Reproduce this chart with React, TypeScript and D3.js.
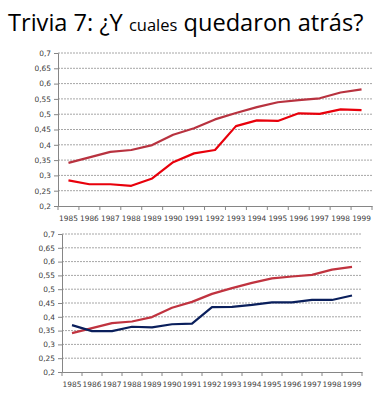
import React, { useEffect, useRef } from "react";
import * as d3 from "d3";

const years = [
  "1985", "1986", "1987", "1988", "1989", "1990", "1991", "1992",
  "1993", "1994", "1995", "1996", "1997", "1998", "1999",
];
const upperSeries = [
  0.341, 0.359, 0.377, 0.383, 0.399, 0.433, 0.454, 0.483,
  0.504, 0.523, 0.539, 0.546, 0.552, 0.571, 0.581,
];
const redSeries = [
  0.284, 0.271, 0.271, 0.266, 0.29, 0.343, 0.372, 0.383,
  0.461, 0.48, 0.478, 0.503, 0.501, 0.516, 0.513,
];
const navySeries = [
  0.37, 0.348, 0.348, 0.364, 0.362, 0.373, 0.375, 0.435,
  0.436, 0.443, 0.452, 0.452, 0.461, 0.461, 0.477,
];
const yTicks = [0.2, 0.25, 0.3, 0.35, 0.4, 0.45, 0.5, 0.55, 0.6, 0.65, 0.7];

const App = () => {
  const chartsRef = useRef<SVGGElement>(null);

  useEffect(() => {
    const root = d3.select(chartsRef.current);
    root.selectAll("*").remove();

    // draws one small excel-like line chart
    const drawChart = (
      left: number,
      right: number,
      top: number,
      bottom: number,
      series: { values: number[]; color: string }[]
    ) => {
      const x = d3.scaleBand().domain(years).range([left, right]);
      const y = d3.scaleLinear().domain([0.2, 0.7]).range([bottom, top]);
      const g = root.append("g");

      // grid
      g.selectAll(".grid")
        .data(yTicks.slice(1))
        .join("line")
        .attr("x1", left)
        .attr("x2", right)
        .attr("y1", (d) => y(d))
        .attr("y2", (d) => y(d))
        .attr("stroke", "#a6a6a6")
        .attr("stroke-width", 1)
        .attr("stroke-dasharray", "2,1");

      const yAxis = d3
        .axisLeft(y)
        .tickValues(yTicks)
        .tickSize(4)
        .tickPadding(3)
        .tickFormat((d) => d3.format(".2~f")(d as number).replace(".", ","));
      const ya = g.append("g").attr("transform", `translate(${left},0)`).call(yAxis);

      const xAxis = d3.axisBottom(x).tickSize(0).tickPadding(10);
      const xa = g.append("g").attr("transform", `translate(0,${bottom})`).call(xAxis);

      // category boundary ticks
      g.selectAll(".xt")
        .data(d3.range(years.length + 1))
        .join("line")
        .attr("x1", (i) => left + i * x.step())
        .attr("x2", (i) => left + i * x.step())
        .attr("y1", bottom)
        .attr("y2", bottom + 4)
        .attr("stroke", "#868686");

      [ya, xa].forEach((a) => {
        a.select(".domain").attr("stroke", "#868686");
        a.selectAll(".tick line").attr("stroke", "#868686");
        a.selectAll("text")
          .attr("fill", "#404040")
          .style("font-family", "'DejaVu Sans', sans-serif")
          .style("font-size", "7.4px");
      });

      const line = d3
        .line<number>()
        .x((d, i) => (x(years[i]) as number) + x.bandwidth() / 2)
        .y((d) => y(d));

      series.forEach((s) => {
        g.append("path")
          .attr("d", line(s.values))
          .attr("fill", "none")
          .attr("stroke", s.color)
          .attr("stroke-width", 2.2)
          .attr("stroke-linejoin", "round");
      });
    };

    drawChart(58, 372, 53, 206, [
      { values: upperSeries, color: "#b8323f" },
      { values: redSeries, color: "#e8000b" },
    ]);
    drawChart(62, 362, 234, 372, [
      { values: upperSeries, color: "#c0333f" },
      { values: navySeries, color: "#0a1f5c" },
    ]);
  }, []);

  return (
    <div style={{ position: "absolute", left: 0, top: 0 }}>
      <svg width={388} height={400} style={{ display: "block", background: "#fff" }}>
        <text
          x={8}
          y={31}
          fontFamily="Open Sans, Lato, sans-serif"
          fontSize={23.6}
          fill="#000"
        >
          Trivia 7: ¿Y <tspan fontSize={16.5}>cuales</tspan> quedaron atrás?
        </text>
        <g ref={chartsRef} />
      </svg>
    </div>
  );
};

export default App;
